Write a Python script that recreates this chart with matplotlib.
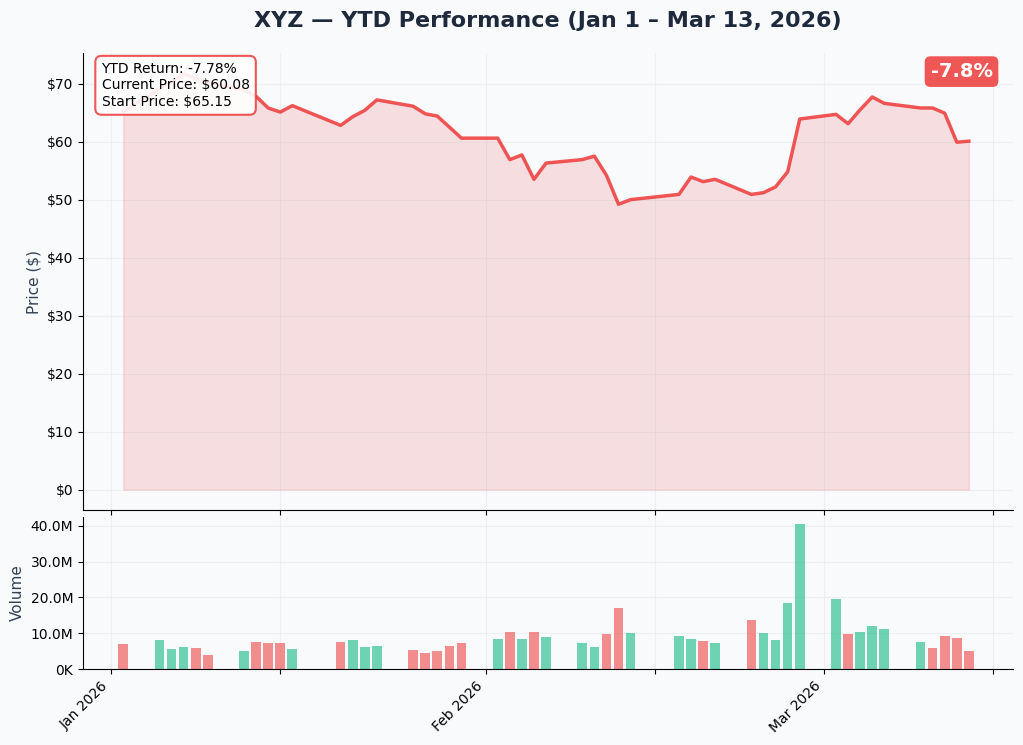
import numpy as np
import pandas as pd
import matplotlib
matplotlib.use('Agg')
import matplotlib.pyplot as plt
import matplotlib.dates as mdates
from matplotlib.ticker import FuncFormatter

# trading days Jan 2 - Mar 13, 2026
dates = ['2026-01-02', '2026-01-05', '2026-01-06', '2026-01-07', '2026-01-08', '2026-01-09',
         '2026-01-12', '2026-01-13', '2026-01-14', '2026-01-15', '2026-01-16',
         '2026-01-20', '2026-01-21', '2026-01-22', '2026-01-23',
         '2026-01-26', '2026-01-27', '2026-01-28', '2026-01-29', '2026-01-30',
         '2026-02-02', '2026-02-03', '2026-02-04', '2026-02-05', '2026-02-06',
         '2026-02-09', '2026-02-10', '2026-02-11', '2026-02-12', '2026-02-13',
         '2026-02-17', '2026-02-18', '2026-02-19', '2026-02-20',
         '2026-02-23', '2026-02-24', '2026-02-25', '2026-02-26', '2026-02-27',
         '2026-03-02', '2026-03-03', '2026-03-04', '2026-03-05', '2026-03-06',
         '2026-03-09', '2026-03-10', '2026-03-11', '2026-03-12', '2026-03-13']

prices = [65.15, 69.1, 70.3, 71.7, 70.9, 70.3,
          68.9, 67.8, 65.8, 65.1, 66.2,
          62.8, 64.3, 65.4, 67.2,
          66.1, 64.8, 64.4, 62.5, 60.6,
          60.6, 56.9, 57.7, 53.5, 56.3,
          56.9, 57.5, 54.2, 49.2, 50.0,
          50.9, 53.9, 53.1, 53.5,
          50.9, 51.2, 52.2, 54.8, 63.9,
          64.7, 63.1, 65.5, 67.7, 66.6,
          65.8, 65.8, 64.9, 59.9, 60.08]

# volume in millions
volumes = [7.1, 8.2, 5.7, 6.2, 6.0, 4.0,
           5.1, 7.6, 7.4, 7.4, 5.7,
           7.6, 8.2, 6.2, 6.5,
           5.4, 4.6, 5.1, 6.5, 7.4,
           8.5, 10.4, 8.5, 10.4, 9.0,
           7.4, 6.2, 9.9, 17.1, 10.1,
           9.3, 8.5, 7.9, 7.4,
           13.8, 10.1, 8.2, 18.5, 40.6,
           19.7, 9.9, 10.4, 12.1, 11.2,
           7.6, 6.0, 9.3, 8.8, 4.9]

# 1 = up day (green), 0 = down day (red)
up = [0, 1, 1, 1, 0, 0,
      1, 0, 0, 0, 1,
      0, 1, 1, 1,
      0, 0, 0, 0, 0,
      1, 0, 1, 0, 1,
      1, 1, 0, 0, 1,
      1, 1, 0, 1,
      0, 1, 1, 1, 1,
      1, 0, 1, 1, 1,
      1, 0, 0, 0, 0]

x = pd.to_datetime(dates)
prices = np.array(prices)
vol = np.array(volumes) * 1e6

start_price = prices[0]
current_price = prices[-1]
ytd = (current_price / start_price - 1) * 100

red = '#ef4444'
green = '#10b981'
bg = '#f8fafc'

fig, (ax, ax2) = plt.subplots(2, 1, figsize=(10.23, 7.45), dpi=100, sharex=True,
                              gridspec_kw={'height_ratios': [3, 1], 'hspace': 0.02})
fig.patch.set_facecolor(bg)
fig.subplots_adjust(left=0.0811, right=0.9902, top=0.9289, bottom=0.102)

ax.set_facecolor(bg)
ax.plot(x, prices, color=red, linewidth=2.5, alpha=0.9)
ax.fill_between(x, prices, 0, color=red, alpha=0.15)
ax.set_ylabel('Price ($)', fontsize=11, color='#334155')
ax.yaxis.set_major_formatter(FuncFormatter(lambda v, p: f'${v:.0f}'))
ax.grid(True, color='#e2e8f0', alpha=0.5, linewidth=0.8)
ax.set_axisbelow(True)
ax.set_title('XYZ \u2014 YTD Performance (Jan 1 \u2013 Mar 13, 2026)',
             fontsize=16, fontweight='bold', color='#1e293b', pad=19)

info = (f'YTD Return: {ytd:.2f}%\nCurrent Price: ${current_price:.2f}\n'
        f'Start Price: ${start_price:.2f}')
ax.text(0.02, 0.98, info, transform=ax.transAxes, fontsize=10, va='top', ha='left',
        bbox=dict(boxstyle='round,pad=0.45', facecolor='white', edgecolor=red,
                  linewidth=1.5, alpha=0.9))
ax.text(0.978, 0.98, f'{ytd:.1f}%', transform=ax.transAxes, fontsize=14,
        fontweight='bold', color='white', va='top', ha='right',
        bbox=dict(boxstyle='round,pad=0.3', facecolor=red, edgecolor='none', alpha=0.9))

for s in ['top', 'right']:
    ax.spines[s].set_visible(False)
    ax2.spines[s].set_visible(False)

ax2.set_facecolor(bg)
colors = [green if u else red for u in up]
ax2.bar(x, vol, width=0.8, color=colors, alpha=0.6)
ax2.set_ylabel('Volume', fontsize=11, color='#334155')
ax2.yaxis.set_major_formatter(FuncFormatter(
    lambda v, p: f'{v/1e6:.1f}M' if v >= 1e6 else f'{v/1e3:.0f}K'))
ax2.grid(True, color='#e2e8f0', alpha=0.5, linewidth=0.8)
ax2.set_axisbelow(True)

jan1 = pd.Timestamp('2026-01-01')
ax2.set_xlim(jan1 - pd.Timedelta(days=2.33), jan1 + pd.Timedelta(days=74.65))
ax2.xaxis.set_major_locator(mdates.MonthLocator(bymonthday=[1, 15]))
ax2.xaxis.set_major_formatter(FuncFormatter(
    lambda v, p: mdates.num2date(v).strftime('%b %Y') if mdates.num2date(v).day == 1 else ''))
plt.setp(ax2.get_xticklabels(), rotation=45, ha='right')

plt.savefig('out.png', dpi=100, facecolor=bg)
